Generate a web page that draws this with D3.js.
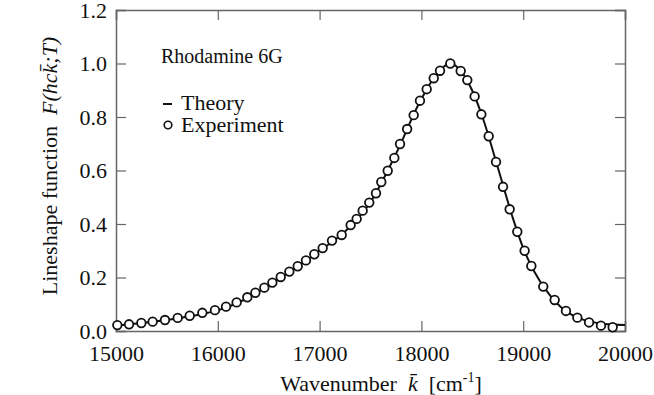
<!DOCTYPE html>
<html>
<head>
<meta charset="utf-8">
<script src="https://cdn.jsdelivr.net/npm/d3@7"></script>
<style>
  body { margin: 0; background: #fff; }
  text { font-family: "Liberation Serif", "Times New Roman", serif; fill: #111; }
</style>
</head>
<body>
<main></main>
<script>
// Experiment points (wavenumber in cm^-1, lineshape value)
let expK = [15013, 15128, 15249, 15360, 15481, 15606, 15724, 15848, 15972, 16081,
  16185, 16290, 16369, 16457, 16536, 16618, 16703, 16785, 16866, 16948,
  17030, 17122, 17217, 17305, 17364, 17423, 17488, 17554, 17606, 17669,
  17734, 17790, 17860, 17924, 17986, 18052, 18121, 18183, 18284, 18386,
  18451, 18523, 18589, 18661, 18733, 18802, 18867, 18942, 19014, 19080,
  19197, 19309, 19420, 19532, 19647, 19764, 19879]
let expF = [0.022, 0.025, 0.030, 0.035, 0.041, 0.049, 0.057, 0.068, 0.078, 0.091,
  0.107, 0.126, 0.143, 0.162, 0.181, 0.202, 0.222, 0.242, 0.264, 0.287,
  0.310, 0.338, 0.359, 0.396, 0.419, 0.450, 0.480, 0.515, 0.557, 0.599,
  0.647, 0.699, 0.755, 0.807, 0.861, 0.904, 0.945, 0.973, 1.000, 0.972,
  0.938, 0.877, 0.810, 0.728, 0.632, 0.539, 0.455, 0.371, 0.300, 0.243,
  0.166, 0.116, 0.075, 0.050, 0.032, 0.020, 0.014]

// Theory curve
let theoryK = [15000, 15250, 15500, 15750, 16000, 16250, 16500, 16750, 17000, 17250,
  17500, 17750, 18000, 18150, 18280, 18400, 18500, 18600, 18750, 18900,
  19000, 19100, 19250, 19400, 19500, 19650, 19800, 20000]
let theoryF = [0.020, 0.030, 0.041, 0.057, 0.077, 0.115, 0.170, 0.232, 0.300, 0.372,
  0.482, 0.662, 0.868, 0.960, 1.000, 0.966, 0.898, 0.800, 0.612, 0.420,
  0.310, 0.228, 0.140, 0.080, 0.056, 0.036, 0.026, 0.022]

let xTicks = [15000, 16000, 17000, 18000, 19000, 20000]
let yTicks = [0, 0.2, 0.4, 0.6, 0.8, 1.0, 1.2]

let W = 654, H = 395
let plotL = 116, plotR = 625, plotT = 10, plotB = 331

let svg = d3.select('main').append('svg')
  .attr('width', W).attr('height', H)

let x = d3.scaleLinear().domain([15000, 20000]).range([plotL, plotR])
let y = d3.scaleLinear().domain([0, 1.2]).range([plotB, plotT])

let axisColor = '#666'
let tickLen = 10
let sp = '\u00a0'

// Axes (ticks pointing inward on all four sides)
let gx = svg.append('g')
  .attr('transform', `translate(0, ${plotB})`)
  .call(d3.axisBottom(x).tickValues(xTicks).tickSize(-tickLen).tickPadding(10).tickFormat(d3.format('d')))
let gxTop = svg.append('g')
  .attr('transform', `translate(0, ${plotT})`)
  .call(d3.axisTop(x).tickValues(xTicks).tickSize(-tickLen).tickFormat(''))
let gy = svg.append('g')
  .attr('transform', `translate(${plotL}, 0)`)
  .call(d3.axisLeft(y).tickValues(yTicks).tickSize(-tickLen).tickPadding(10).tickFormat(d3.format('.1f')))
let gyRight = svg.append('g')
  .attr('transform', `translate(${plotR}, 0)`)
  .call(d3.axisRight(y).tickValues(yTicks).tickSize(-tickLen).tickFormat(''))

svg.selectAll('.domain').attr('stroke', axisColor).attr('stroke-width', 1.5)
svg.selectAll('.tick line').attr('stroke', axisColor).attr('stroke-width', 1.2)
svg.selectAll('.tick text')
  .style('font-family', '"Liberation Serif", serif')
  .style('font-size', '22px')
  .attr('fill', '#111')
gx.selectAll('.tick text').attr('dy', '0.9em')
gy.selectAll('.tick text').attr('x', -9)

// Theory line
let line = d3.line()
  .x((d, i) => x(theoryK[i]))
  .y(d => y(d))
  .curve(d3.curveMonotoneX)

svg.append('path')
  .datum(theoryF)
  .attr('d', line)
  .attr('fill', 'none')
  .attr('stroke', '#111')
  .attr('stroke-width', 2)

// Experiment circles
svg.append('g').selectAll('circle')
  .data(expF)
  .enter()
  .append('circle')
  .attr('cx', (d, i) => x(expK[i]))
  .attr('cy', d => y(d))
  .attr('r', 4.3)
  .attr('fill', '#fff')
  .attr('stroke', '#111')
  .attr('stroke-width', 1.8)

// Legend
svg.append('text').attr('x', 161).attr('y', 63)
  .style('font-size', '20px').text('Rhodamine 6G')
svg.append('line')
  .attr('x1', 163).attr('x2', 172).attr('y1', 104).attr('y2', 104)
  .attr('stroke', '#111').attr('stroke-width', 2)
svg.append('text').attr('x', 181).attr('y', 110)
  .style('font-size', '22px').text('Theory')
svg.append('circle').attr('cx', 168).attr('cy', 125).attr('r', 3.8)
  .attr('fill', '#fff').attr('stroke', '#111').attr('stroke-width', 1.6)
svg.append('text').attr('x', 181).attr('y', 132)
  .style('font-size', '22px').text('Experiment')

// X axis label
let xl = svg.append('text')
  .attr('x', 381).attr('y', 391)
  .attr('text-anchor', 'middle')
  .style('font-size', '22px')
xl.append('tspan').text('Wavenumber' + sp + sp)
xl.append('tspan').style('font-style', 'italic').text('k\u0304')
xl.append('tspan').text(sp + sp + '[cm')
xl.append('tspan').attr('dy', -9).style('font-size', '14px').text('-1')
xl.append('tspan').attr('dy', 9).text(']')

// Y axis label
let yl = svg.append('text')
  .attr('transform', `translate(57, 166) rotate(-90)`)
  .attr('text-anchor', 'middle')
  .style('font-size', '22px')
yl.append('tspan').text('Lineshape function' + sp + sp)
yl.append('tspan').style('font-style', 'italic').text('F(hck\u0304;T)')
</script>
</body>
</html>
